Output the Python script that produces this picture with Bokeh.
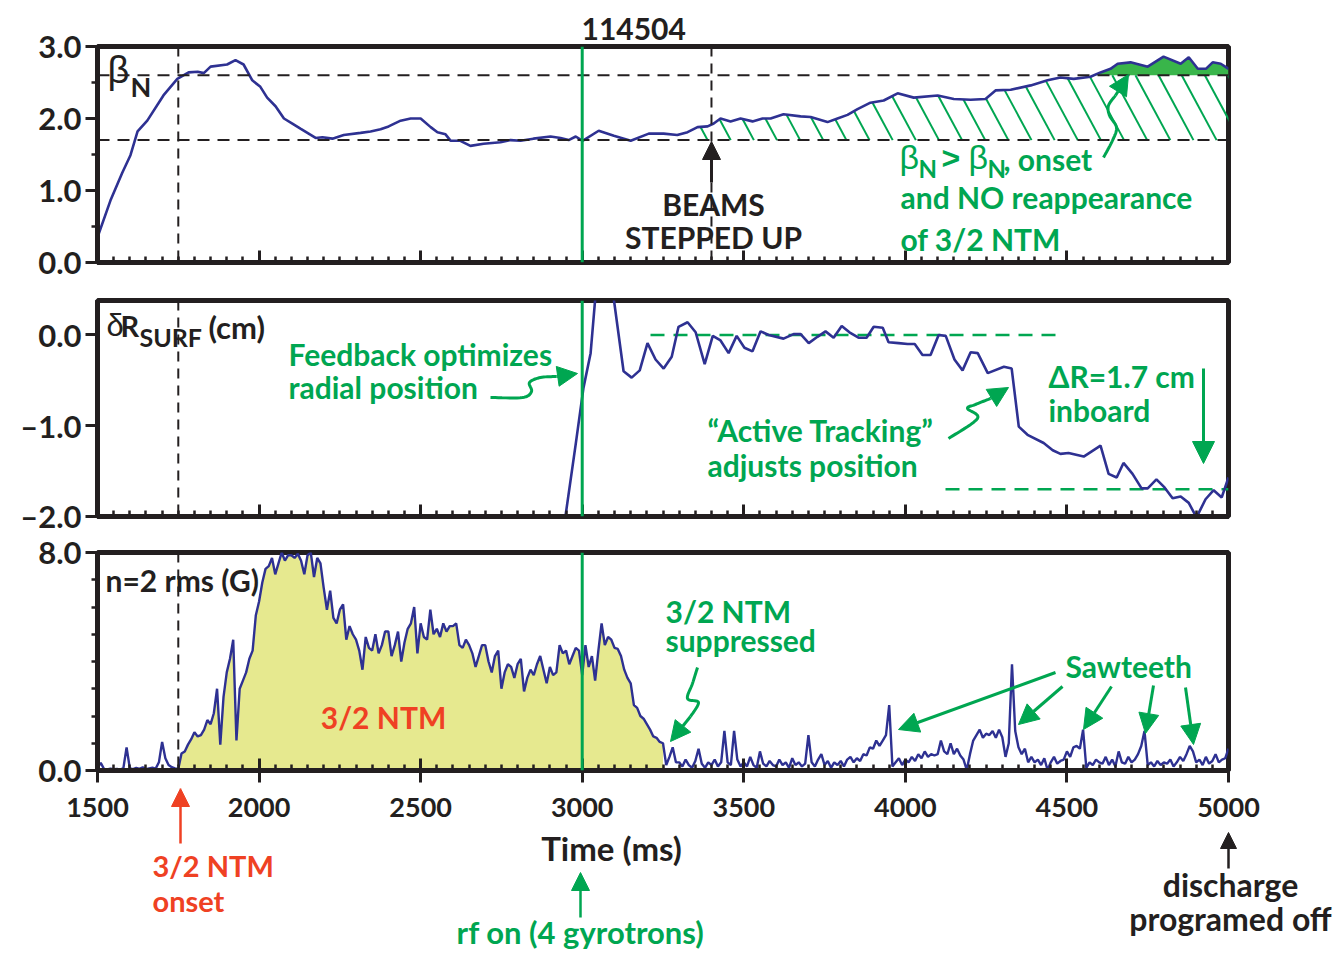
import numpy as np
from bokeh.plotting import figure
from bokeh.layouts import column
from bokeh.models import FixedTicker, Label, Arrow, NormalHead, Range1d, Span, Title
from bokeh.embed import file_html
from bokeh.resources import INLINE

# ---------------- data ----------------
beta_t = [1500, 1540, 1577, 1602, 1624, 1654, 1704, 1747, 1782, 1810, 1829, 1850, 1901, 1927, 1952,
          1979, 2004, 2025, 2051, 2077, 2103, 2128, 2175, 2196, 2227, 2262, 2314, 2345, 2376, 2401,
          2438, 2469, 2500, 2531, 2552, 2577, 2593, 2623, 2654, 2695, 2747, 2778, 2809, 2849, 2902,
          2933, 2958, 2980, 3001, 3051, 3098, 3150, 3206, 3252, 3294, 3326, 3357, 3388, 3407, 3428,
          3459, 3490, 3527, 3558, 3583, 3623, 3676, 3707, 3759, 3790, 3821, 3852, 3892, 3933, 3976,
          4026, 4100, 4150, 4202, 4248, 4279, 4326, 4388, 4440, 4480, 4521, 4573, 4604, 4635, 4657,
          4697, 4750, 4799, 4852, 4877, 4905, 4930, 4951, 4976, 5000]
beta_v = [0.35, 0.86, 1.25, 1.49, 1.82, 1.97, 2.32, 2.55, 2.64, 2.65, 2.63, 2.72, 2.75, 2.81, 2.75,
          2.53, 2.44, 2.29, 2.17, 2.00, 1.93, 1.86, 1.73, 1.74, 1.72, 1.77, 1.80, 1.82, 1.85, 1.89,
          1.97, 2.00, 2.00, 1.88, 1.81, 1.78, 1.69, 1.69, 1.62, 1.65, 1.67, 1.70, 1.69, 1.72, 1.75,
          1.73, 1.70, 1.75, 1.69, 1.83, 1.76, 1.69, 1.79, 1.79, 1.77, 1.81, 1.88, 1.89, 1.93, 2.00,
          1.96, 2.00, 1.96, 2.00, 2.00, 2.06, 2.03, 2.02, 1.95, 2.00, 2.05, 2.13, 2.22, 2.25, 2.35,
          2.29, 2.32, 2.27, 2.26, 2.27, 2.39, 2.40, 2.46, 2.53, 2.57, 2.55, 2.58, 2.64, 2.69, 2.76,
          2.78, 2.72, 2.86, 2.76, 2.85, 2.69, 2.69, 2.78, 2.76, 2.69]

dr_t = [2940, 2948, 2980, 3004, 3026, 3045, 3070, 3090, 3128, 3153, 3178, 3202, 3227, 3252, 3277,
        3298, 3326, 3351, 3379, 3404, 3428, 3453, 3478, 3502, 3527, 3552, 3577, 3623, 3654, 3676,
        3701, 3728, 3753, 3778, 3803, 3827, 3855, 3880, 3902, 3930, 3948, 3979, 4007, 4029, 4053,
        4078, 4103, 4125, 4152, 4177, 4202, 4224, 4255, 4305, 4329, 4351, 4378, 4428, 4456, 4480,
        4505, 4552, 4604, 4629, 4654, 4675, 4703, 4731, 4750, 4777, 4802, 4827, 4852, 4877, 4901,
        4929, 4954, 4979, 5000]
dr_v = [-2.30, -2.00, -1.20, -0.58, -0.20, 0.60, 0.90, 0.60, -0.40, -0.47, -0.39, -0.09, -0.27, -0.37, -0.24,
        0.09, 0.14, 0.03, -0.32, -0.01, -0.06, -0.20, -0.01, -0.14, -0.18, 0.04, 0.00, -0.04, 0.01, 0.01,
        -0.09, -0.02, 0.04, -0.03, 0.10, 0.03, -0.03, -0.03, 0.09, 0.08, -0.08, -0.09, -0.10, -0.10, -0.22,
        -0.22, 0.00, -0.01, -0.27, -0.39, -0.19, -0.20, -0.42, -0.35, -0.37, -1.01, -1.10, -1.19, -1.27, -1.31,
        -1.30, -1.34, -1.22, -1.53, -1.57, -1.41, -1.53, -1.69, -1.69, -1.59, -1.68, -1.80, -1.78, -1.85, -2.01,
        -1.81, -1.71, -1.79, -1.57]

# n=2 rms amplitude (G), sampled every 10 ms from 1500 ms
n2_start, n2_step = 1500, 10
n2_v = [
    0.12, 0.28, 0.06, 0.04, 0.07, 0.05, 0.06, 0.04, 0.08, 0.85,
    0.08, 0.05, 0.10, 0.06, 0.12, 0.05, 0.08, 0.10, 0.07, 0.30,
    1.05, 0.45, 0.20, 0.12, 0.08, 0.06, 0.62, 0.70, 0.95, 1.15,
    1.40, 1.25, 1.30, 1.50, 1.85, 1.70, 2.10, 3.00, 0.95, 2.70,
    3.60, 4.10, 4.80, 1.10, 3.00, 3.30, 3.60, 4.10, 4.40, 5.70,
    6.20, 6.90, 7.40, 7.50, 7.80, 7.20, 7.60, 8.00, 7.70, 7.90,
    7.90, 7.80, 7.95, 7.70, 7.20, 7.90, 8.00, 7.10, 7.80, 7.60,
    6.70, 5.90, 6.60, 5.60, 5.40, 5.90, 6.10, 4.80, 5.30, 5.00,
    4.80, 4.40, 3.70, 4.90, 4.50, 4.40, 5.00, 4.30, 4.60, 5.10,
    5.10, 4.20, 4.60, 5.10, 4.00, 4.70, 5.20, 5.40, 6.00, 4.30,
    5.40, 4.90, 4.80, 5.90, 5.00, 5.20, 4.90, 5.40, 5.10, 5.30,
    5.30, 5.40, 4.60, 4.50, 4.80, 4.60, 4.30, 3.80, 4.20, 4.60,
    4.60, 4.00, 3.60, 4.20, 4.40, 3.00, 3.60, 3.90, 3.80, 3.40,
    3.90, 4.10, 2.90, 3.40, 3.70, 3.50, 3.90, 4.20, 3.70, 3.20,
    3.80, 3.50, 3.60, 4.60, 4.30, 4.40, 3.90, 4.20, 4.50, 4.40,
    3.50, 4.60, 3.80, 4.20, 3.30, 4.40, 5.40, 4.60, 4.90, 4.80,
    4.50, 4.46, 4.20, 3.70, 3.40, 3.20, 2.40, 2.30, 2.00, 1.90,
    1.70, 1.50, 1.25, 1.20, 1.05, 1.00, 0.20, 0.50, 0.85, 0.30,
    0.30, 0.15, 0.40, 0.20, 0.10, 0.35, 0.80, 0.25, 0.10, 0.30,
    0.20, 0.40, 0.15, 0.30, 1.45, 0.30, 0.20, 1.45, 0.40, 0.15,
    0.30, 0.15, 0.50, 0.20, 0.10, 0.70, 0.25, 0.15, 0.35, 0.20,
    0.15, 0.40, 0.20, 0.30, 0.10, 0.45, 0.20, 0.30, 0.15, 0.25,
    1.30, 0.30, 0.15, 0.40, 0.60, 0.20, 0.35, 0.10, 0.30, 0.20,
    0.35, 0.15, 0.40, 0.50, 0.30, 0.45, 0.35, 0.60, 0.55, 0.85,
    0.80, 1.10, 0.90, 1.10, 1.30, 2.40, 0.15, 0.30, 0.45, 0.20,
    0.40, 0.30, 0.50, 0.35, 0.60, 0.45, 0.70, 0.50, 0.60, 0.55,
    0.60, 1.10, 0.70, 0.60, 1.00, 0.60, 0.80, 0.55, 0.40, 0.02,
    0.60, 1.10, 1.30, 1.50, 1.20, 1.35, 1.30, 1.45, 1.20, 1.50,
    1.22, 0.50, 1.00, 3.90, 1.45, 0.85, 0.60, 0.80, 0.30, 0.50,
    0.30, 0.40, 0.20, 0.45, 0.02, 0.30, 0.50, 0.25, 0.35, 0.40,
    0.70, 0.50, 0.85, 0.90, 0.80, 1.50, 0.10, 0.30, 0.20, 0.40,
    0.30, 0.25, 0.50, 0.20, 0.40, 0.15, 0.70, 0.30, 0.25, 0.50,
    0.30, 0.40, 0.60, 0.90, 1.45, 0.20, 0.30, 0.15, 0.35, 0.20,
    0.30, 0.25, 0.40, 0.15, 0.30, 0.50, 0.35, 0.60, 0.90, 0.70,
    0.30, 0.40, 0.20, 0.50, 0.25, 0.35, 0.60, 0.30, 0.40, 0.45,
    0.80]

x_major = [1500, 2000, 2500, 3000, 3500, 4000, 4500, 5000]
x_minor = list(range(1500, 5001, 50))
beta_levels = [2.6, 1.7]
dr_levels = [0.0, -1.7]
t_onset, t_rf, t_beams, t_ntm_end = 1750, 3000, 3400, 3250
hatch_start = 3340
shot = "114504"

# ---------------- styling ----------------
FONT = "Lato, Roboto, Liberation Sans, sans-serif"
SYM = "Liberation Sans, DejaVu Sans, sans-serif"
BLACK = "#231f20"; BLUE = "#2e3192"; GREEN = "#00a651"; GFILL = "#39b54a"
RED = "#ef4123"; YEL = "#e6e98f"
W = 1341; L = 97; R = 1228


def fx(px):
    return 1500 + (px - L) * 3500.0 / (R - L)


def fy1(py):
    return 3.0 * (262 - py) / 216.0


def fy2(py):
    return 0.38 - (py - 300) * 2.38 / 216.0


def fy3(py):
    return 8.0 * (770 - py) / 218.0


def make_fig(h, top_b, bot_b, yr):
    p = figure(width=W, height=h, x_range=Range1d(1500, 5000), y_range=Range1d(*yr),
               output_backend="svg", toolbar_location=None,
               min_border_left=L, min_border_right=W - R, min_border_top=top_b,
               min_border_bottom=bot_b)
    p.grid.visible = False
    p.outline_line_color = BLACK
    p.outline_line_width = 5
    p.outline_line_alpha = 1.0
    p.background_fill_color = "white"
    p.border_fill_color = "white"
    return p


def style_axes(p, yticks, yminor, ylabels, out_ticks=False):
    xa = p.xaxis[0]
    ya = p.yaxis[0]
    xa.ticker = FixedTicker(ticks=x_major, minor_ticks=x_minor)
    for a in (xa, ya):
        a.axis_line_width = 5
        a.axis_line_color = BLACK
        a.major_tick_line_color = BLACK
        a.minor_tick_line_color = BLACK
        a.major_tick_line_width = 3
        a.minor_tick_line_width = 2.5
        a.major_label_text_font = FONT
        a.major_label_text_font_style = "bold"
        a.major_label_text_color = BLACK
    xa.major_tick_in = 12
    xa.major_tick_out = 12 if out_ticks else 0
    xa.minor_tick_in = 6
    xa.minor_tick_out = 0
    xa.major_label_text_font_size = "1px"
    xa.major_label_text_color = None
    xa.major_label_standoff = 0
    ya.ticker = FixedTicker(ticks=yticks, minor_ticks=yminor)
    ya.major_tick_in = 0
    ya.major_tick_out = 12
    ya.minor_tick_in = 0
    ya.minor_tick_out = 6
    ya.major_label_overrides = ylabels
    ya.major_label_text_font_size = "31px"
    ya.major_label_standoff = 4


def lab(p, x, y, text, size, color=BLACK, style="bold", align="left", font=FONT):
    # raise the text so that its alphabetic baseline sits on (x, y)
    p.add_layout(Label(x=x, y=y, text=text, text_font=font, text_font_size=f"{size}px",
                       text_font_style=style, text_color=color, text_align=align,
                       text_baseline="alphabetic", y_offset=round(0.4 * size)))


def arrow(p, x0, y0, x1, y1, color, size=18, width=3):
    p.add_layout(Arrow(end=NormalHead(size=size, fill_color=color, line_color=color, line_width=1),
                       x_start=x0, y_start=y0, x_end=x1, y_end=y1,
                       line_color=color, line_width=width))


def smooth(pts, n=10):
    P = np.array(pts, float)
    P = np.vstack([P[0], P, P[-1]])
    out = []
    for i in range(1, len(P) - 2):
        p0, p1, p2, p3 = P[i - 1], P[i], P[i + 1], P[i + 2]
        for t in np.linspace(0, 1, n, endpoint=False):
            out.append(0.5 * ((2 * p1) + (-p0 + p2) * t + (2 * p0 - 5 * p1 + 4 * p2 - p3) * t * t
                              + (-p0 + 3 * p1 - 3 * p2 + p3) * t ** 3))
    out.append(P[-2])
    return np.array(out)


def squiggle(p, pts_px, fyf, color=GREEN, size=20):
    body = smooth(pts_px[:-1])
    xs = [fx(a) for a in body[:, 0]]
    ys = [fyf(b) for b in body[:, 1]]
    p.line(xs, ys, line_color=color, line_width=3)
    (ax, ay), (bx, by) = pts_px[-2], pts_px[-1]
    arrow(p, fx(ax), fyf(ay), fx(bx), fyf(by), color, size=size)


def vspans(p, with_beams=False):
    p.add_layout(Span(location=t_onset, dimension="height", line_color=BLACK,
                      line_width=2, line_dash="10 7"))
    if with_beams:
        p.add_layout(Span(location=t_beams, dimension="height", line_color=BLACK,
                          line_width=2, line_dash="10 7"))
    p.add_layout(Span(location=t_rf, dimension="height", line_color=GREEN, line_width=3))


# ================= panel 1: beta_N =================
p1 = make_fig(290, 46, 28, (0, 3.0))
p1.title = Title(text=shot, align="left", offset=484, standoff=13, text_font=FONT,
                 text_font_size="30px", text_font_style="bold", text_color=BLACK)
style_axes(p1, [0, 1, 2, 3], [0.5, 1.5, 2.5], {0: "0.0", 1: "1.0", 2: "2.0", 3: "3.0"})

hx = np.linspace(hatch_start, 5000, 1661)
hy = np.interp(hx, beta_t, beta_v)
hi, lo = beta_levels
p1.varea(x=hx, y1=hi, y2=np.maximum(hy, hi), fill_color=GFILL)

slant = 120.0  # ms of leftward shift per unit of beta for each hatch stroke
hx0, hy0, hx1, hy1 = [], [], [], []
for xb in np.arange(3388, 5140, 71.6):
    s = np.linspace(0, hi - lo, 500)
    xx = xb - slant * s
    yy = lo + s
    top = np.minimum(np.interp(xx, beta_t, beta_v), hi)
    ok = (yy <= top) & (xx >= hatch_start)
    if not ok[0]:
        continue
    k = len(ok) - 1 if ok.all() else int(np.argmin(ok)) - 1
    if k < 2:
        continue
    hx0.append(xb); hy0.append(lo); hx1.append(xx[k]); hy1.append(yy[k])
p1.segment(hx0, hy0, hx1, hy1, line_color=GREEN, line_width=2)

for lvl in beta_levels:
    p1.add_layout(Span(location=lvl, dimension="width", line_color=BLACK,
                       line_width=2, line_dash="12 8"))
vspans(p1, with_beams=True)
p1.line(beta_t, beta_v, line_color=BLUE, line_width=2.6)

lab(p1, fx(107), fy1(84), "β", 38, style="normal", font=SYM)
lab(p1, fx(130), fy1(97), "N", 27)
lab(p1, fx(713), fy1(215), "BEAMS", 30, align="center")
lab(p1, fx(713), fy1(248), "STEPPED UP", 30, align="center")
arrow(p1, fx(711), fy1(182), fx(711), fy1(141), BLACK, size=18, width=3)

lab(p1, fx(899), fy1(170), "β", 34, color=GREEN, style="normal", font=SYM)
lab(p1, fx(918), fy1(178), "N", 24, color=GREEN)
lab(p1, fx(941), fy1(170), ">", 32, color=GREEN, font=SYM)
lab(p1, fx(968), fy1(170), "β", 34, color=GREEN, style="normal", font=SYM)
lab(p1, fx(987), fy1(178), "N", 24, color=GREEN)
lab(p1, fx(1003), fy1(170), ", onset", 30, color=GREEN)
lab(p1, fx(900), fy1(208), "and NO reappearance", 30, color=GREEN)
lab(p1, fx(900), fy1(250), "of 3/2 NTM", 30, color=GREEN)
squiggle(p1, [(1103, 157), (1112, 140), (1116, 127), (1109, 115), (1108, 105),
              (1115, 95), (1128, 74)], fy1, size=20)

# ================= panel 2: delta R_surf =================
p2 = make_fig(244, 10, 18, (-2.0, 0.38))
style_axes(p2, [-2, -1, 0], [], {0: "0.0", -1: "\u20131.0", -2: "\u20132.0"})
p2.line([fx(650), fx(1063)], [dr_levels[0]] * 2, line_color=GREEN, line_width=2.5, line_dash="14 9")
p2.line([fx(945), fx(1228)], [dr_levels[1]] * 2, line_color=GREEN, line_width=2.5, line_dash="14 9")
vspans(p2)
p2.line(dr_t, dr_v, line_color=BLUE, line_width=2.6)

lab(p2, fx(106), fy2(337), "δ", 31, style="normal", font=SYM)
lab(p2, fx(120), fy2(337), "R", 29)
lab(p2, fx(139), fy2(346), "SURF", 25)
lab(p2, fx(208), fy2(338), "(cm)", 31)
lab(p2, fx(288), fy2(365), "Feedback optimizes", 30, color=GREEN)
lab(p2, fx(288), fy2(398), "radial position", 30, color=GREEN)
squiggle(p2, [(490, 397), (522, 397), (531, 391), (529, 382), (540, 377), (556, 376),
              (577, 373)], fy2, size=20)
lab(p2, fx(707), fy2(441), "\u201cActive Tracking\u201d", 30, color=GREEN)
lab(p2, fx(707), fy2(476), "adjusts position", 30, color=GREEN)
squiggle(p2, [(948, 438), (977, 418), (967, 408), (975, 404), (990, 398), (1008, 387)], fy2, size=20)
lab(p2, fx(1048), fy2(387), "\u0394R=1.7 cm", 30, color=GREEN)
lab(p2, fx(1048), fy2(421), "inboard", 30, color=GREEN)
arrow(p2, fx(1203), fy2(368), fx(1203), fy2(463), GREEN, size=22)

# ================= panel 3: n=2 rms =================
p3 = make_fig(254, 18, 18, (0, 8.0))
style_axes(p3, [0, 8], [1, 2, 3, 4, 5, 6, 7], {0: "0.0", 8: "8.0"}, out_ticks=True)
t3 = n2_start + n2_step * np.arange(len(n2_v))
v3 = np.array(n2_v)
m = (t3 >= t_onset) & (t3 <= t_ntm_end)
p3.varea(x=t3[m], y1=0, y2=v3[m], fill_color=YEL)
vspans(p3)
p3.line(t3, v3, line_color=BLUE, line_width=2.4)

lab(p3, fx(105), fy3(591), "n=2 rms (G)", 30)
lab(p3, fx(383), fy3(728), "3/2 NTM", 30, color=RED, align="center")
lab(p3, fx(665), fy3(622), "3/2 NTM", 30, color=GREEN)
lab(p3, fx(665), fy3(651), "suppressed", 30, color=GREEN)
squiggle(p3, [(697, 667), (692, 683), (687, 698), (698, 702), (690, 716), (670, 741)], fy3, size=20)
lab(p3, fx(1065), fy3(677), "Sawteeth", 30, color=GREEN)
for (sx, sy), (ex, ey) in [((1055, 672), (898, 729)), ((1062, 686), (1018, 724)),
                           ((1111, 686), (1083, 729)), ((1153, 685), (1145, 733)),
                           ((1185, 687), (1193, 744))]:
    arrow(p3, fx(sx), fy3(sy), fx(ex), fy3(ey), GREEN, size=20)

# ================= strip below: time tick labels and notes =================
TOP4 = 788
p4 = figure(width=W, height=953 - TOP4, x_range=Range1d(fx(0), fx(W)),
            y_range=Range1d(-953, -TOP4), output_backend="svg", toolbar_location=None,
            x_axis_type=None, y_axis_type=None, min_border_left=0, min_border_right=0,
            min_border_top=0, min_border_bottom=0, frame_align=False)
p4.outline_line_color = None
p4.grid.visible = False
p4.background_fill_color = "white"
p4.border_fill_color = "white"
for t in x_major:
    lab(p4, t, -818, str(t), 27, align="center")
lab(p4, fx(611), -860, "Time (ms)", 33, align="center")
arrow(p4, fx(180), -843, fx(180), -788, RED, size=18, width=2.5)
lab(p4, fx(152), -877, "3/2 NTM", 29, color=RED)
lab(p4, fx(152), -912, "onset", 29, color=RED)
arrow(p4, fx(580), -917, fx(580), -872, GREEN, size=18, width=2.5)
lab(p4, fx(580), -943, "rf on (4 gyrotrons)", 31, color=GREEN, align="center")
arrow(p4, fx(1228), -868, fx(1228), -832, BLACK, size=16, width=2.5)
lab(p4, fx(1230), -897, "discharge", 32, align="center")
lab(p4, fx(1230), -931, "programed off", 32, align="center")

layout = column(p1, p2, p3, p4, spacing=0)
open("out.html", "w").write(file_html(layout, INLINE))
